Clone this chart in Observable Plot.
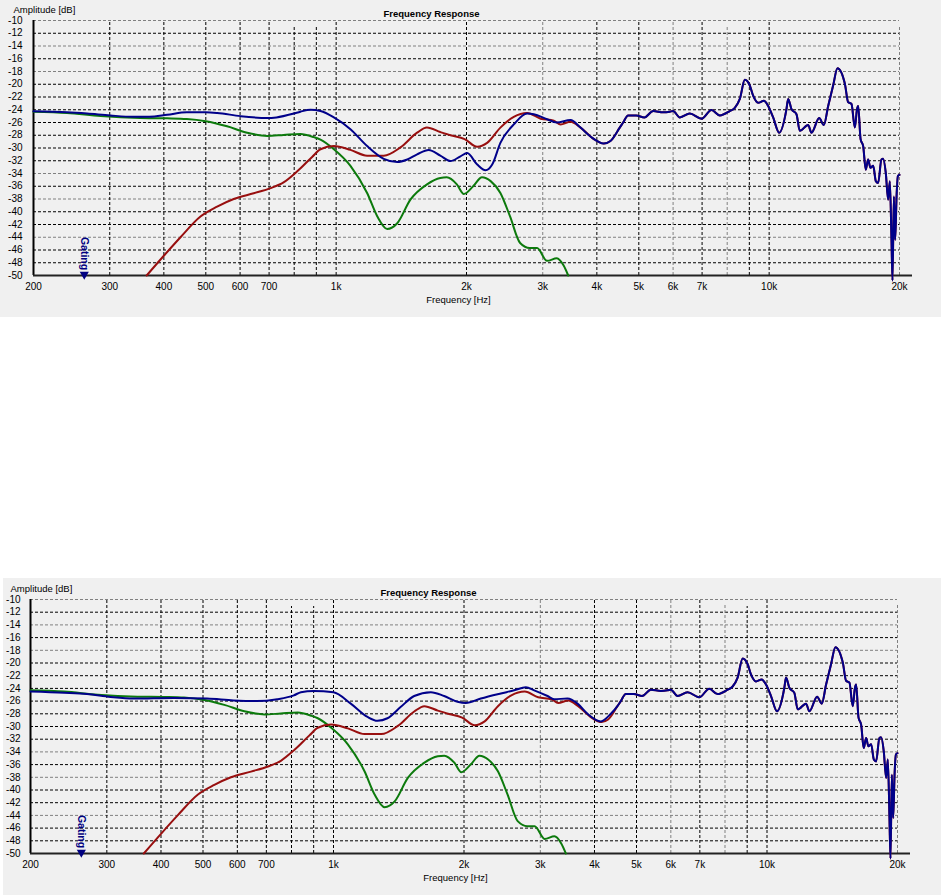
<!DOCTYPE html>
<html><head><meta charset="utf-8">
<script src="https://cdn.jsdelivr.net/npm/d3@7"></script>
<script src="https://cdn.jsdelivr.net/npm/@observablehq/plot@0.6"></script>
<style>
body{margin:0;background:#fff;width:941px;height:895px;position:relative;overflow:hidden}
.panel{position:absolute;background:#f0f0f0}
.panel svg{overflow:visible}
</style></head><body>
<div id="top" class="panel" style="left:0;top:0;width:941px;height:317px"></div>
<div id="bottom" class="panel" style="left:3px;top:578px;width:938px;height:317px"></div>
<script>
// ---- data ----
const titleText = "Frequency Response";
const yLabelText = "Amplitude [dB]";
const xLabelText = "Frequency [Hz]";
const gateText = "Gating";
const gateFreq = 262;

const dbTicks = [-10,-12,-14,-16,-18,-20,-22,-24,-26,-28,-30,-32,-34,-36,-38,-40,-42,-44,-46,-48,-50];
const dbGrayLines = [-10,-14,-18,-34,-38,-44];
const freqLabels = [200,300,400,500,600,700,1000,2000,3000,4000,5000,6000,7000,10000,20000];
const freqGrid = [300,400,500,600,700,800,900,1000,2000,3000,4000,5000,6000,7000,8000,9000,10000,20000];
const freqGrayLines = [3000,6000,8000,20000];
const freqExtended = [800,900,8000,9000,20000];

// shared high-frequency response (all curves coincide above ~4.5 kHz)
const hfFreq = [4518,4600,4723,4933,5150,5396,5692,5897,6000,6220,6557,6980,7358,7692,8113,8331,8556,8787,9024,9184,9432,9720,9947,10215,10546,10965,11063,11261,11563,11771,12304,12524,13048,13374,13687,14052,14380,14955,15220,15493,15770,15955,16055,16260,16487,16715,16928,17134,17389,17636,17851,18168,18330,18593,18828,18998,19166,19269,19408,19548,19690,19832,20000];
const hfDb = [-26.8,-26.0,-24.9,-24.9,-25.2,-24.2,-24.4,-24.3,-24.2,-25.2,-24.6,-25.4,-24.05,-24.9,-24.2,-23.7,-22.3,-19.3,-20.2,-21.8,-22.9,-22.6,-23.4,-25.2,-27.6,-23.9,-22.3,-23.9,-24.7,-27.3,-26.4,-27.6,-25.3,-26.4,-23.4,-20.2,-17.5,-19.9,-22.8,-23.1,-26.8,-23.9,-23.4,-28.6,-29.7,-33.4,-31.8,-33.1,-32.8,-35.2,-35.5,-31.8,-31.7,-33.9,-38.1,-35.2,-44.4,-50.8,-37.6,-44.4,-37.6,-34.4,-34.2];

// green (low-pass driver)
const greenFreq = [200,239,286,353,407,452,500,560,623,693,756,827,888,920,988,1079,1179,1244,1312,1384,1484,1621,1740,1801,1900,1972,2072,2172,2274,2395,2520,2660,2800,2911,3069,3233,3350,3435];
const greenDb = [-24.3,-24.5,-25.0,-25.3,-25.35,-25.45,-25.8,-26.6,-27.6,-28.1,-27.95,-27.8,-28.3,-28.7,-30.2,-32.8,-37.05,-40.7,-42.7,-41.8,-38.1,-35.7,-34.7,-34.6,-35.7,-37.2,-36.0,-34.6,-35.2,-37.05,-40.7,-44.9,-45.7,-45.7,-47.7,-47.3,-48.4,-50];

// red (high-pass driver), below 4.5 kHz
const redFreq = [365,400,437,486,531,580,645,706,756,812,880,920,988,1079,1179,1288,1408,1538,1620,1740,1837,1980,2117,2232,2395,2572,2761,2966,3182,3298,3478,3667,3936,4152,4300];
const redDb = [-50,-46.9,-44.0,-40.75,-39.2,-38.0,-37.1,-36.3,-35.4,-33.7,-31.4,-30.2,-29.7,-30.3,-31.2,-31.2,-29.9,-27.6,-26.8,-27.5,-28.0,-28.6,-29.8,-29.2,-26.8,-25.1,-24.5,-25.4,-25.7,-26.3,-25.9,-26.8,-28.6,-29.3,-28.9];

// blue (sum), top chart, below 4.5 kHz
const blueTopFreq = [200,239,266,301,340,370,407,452,500,531,601,693,728,798,827,872,920,988,1079,1179,1288,1384,1460,1538,1636,1740,1837,1937,2007,2117,2213,2293,2395,2572,2761,2861,3069,3233,3478,3667,3867,4152,4300];
const blueTopDb = [-24.25,-24.4,-24.6,-24.9,-25.1,-25.1,-24.8,-24.4,-24.4,-24.5,-25.0,-25.3,-25.2,-24.6,-24.3,-24.0,-24.2,-25.2,-27.05,-29.7,-31.7,-32.2,-31.8,-31.0,-30.3,-31.2,-32.05,-31.3,-30.8,-32.6,-33.5,-32.6,-29.2,-26.3,-24.6,-24.7,-25.5,-26.0,-25.6,-26.8,-28.2,-29.3,-28.9];

// blue (sum), bottom chart, below 4.5 kHz
const blueBotFreq = [200,239,270,306,346,428,511,588,666,742,810,841,900,1000,1096,1198,1263,1332,1430,1535,1677,1800,1932,2020,2187,2432,2611,2778,2904,3117,3228,3465,3655,3854,4138,4363];
const blueBotDb = [-24.5,-24.7,-24.9,-25.35,-25.6,-25.5,-25.6,-25.9,-26.0,-25.7,-25.1,-24.6,-24.4,-24.6,-26.4,-28.5,-29.1,-28.7,-26.9,-25.2,-24.6,-25.2,-26.1,-26.3,-25.6,-24.8,-24.3,-23.8,-24.3,-25.2,-25.7,-25.6,-26.4,-28.0,-29.2,-28.0];

const colors = {green: "#0c7a0c", red: "#980f0f", blue: "#00008a"};

// ---- helpers ----
const pts = (fs, ds) => fs.map((f, i) => ({f, db: ds[i]}));
const greenData = pts(greenFreq, greenDb);
const redData = pts(redFreq.concat(hfFreq), redDb.concat(hfDb));
const fmtFreq = f => f >= 1000 ? (f / 1000) + "k" : String(f);

function chart(cfg) {
  const blueData = pts(cfg.blueF.concat(hfFreq), cfg.blueD.concat(hfDb));
  const frameCenter = (cfg.marginLeft + cfg.width - cfg.marginRight) / 2;
  const vBlackNorm = freqGrid.filter(d => !freqGrayLines.includes(d) && !freqExtended.includes(d));
  const vBlackExt = freqGrid.filter(d => !freqGrayLines.includes(d) && freqExtended.includes(d));
  const vGrayNorm = freqGrid.filter(d => freqGrayLines.includes(d) && !freqExtended.includes(d));
  const vGrayExt = freqGrid.filter(d => freqGrayLines.includes(d) && freqExtended.includes(d));
  const dash = "3,2";
  return Plot.plot({
    width: cfg.width, height: 317,
    marginLeft: cfg.marginLeft, marginRight: cfg.marginRight,
    marginTop: cfg.marginTop, marginBottom: cfg.marginBottom,
    x: {type: "log", domain: [200, 20000], axis: null},
    y: {domain: [-50, -10], axis: null},
    style: {background: "transparent", fontFamily: "'Liberation Sans', Arial, sans-serif", fontSize: "10px", color: "#000", overflow: "visible"},
    marks: [
      Plot.ruleY(dbTicks.filter(d => !dbGrayLines.includes(d)), {x1: 200, x2: 20000, stroke: "#000", strokeWidth: 1, strokeDasharray: dash}),
      Plot.ruleY(dbTicks.filter(d => dbGrayLines.includes(d)), {x1: 200, x2: 20000, stroke: "#808080", strokeWidth: 1, strokeDasharray: dash}),
      Plot.ruleX(vBlackNorm, {y1: -50, y2: -10, stroke: "#000", strokeWidth: 1, strokeDasharray: dash}),
      Plot.ruleX(vBlackExt, {y1: -50, y2: -10, insetBottom: -7, stroke: "#000", strokeWidth: 1, strokeDasharray: dash}),
      Plot.ruleX(vGrayNorm, {y1: -50, y2: -10, stroke: "#808080", strokeWidth: 1, strokeDasharray: dash}),
      Plot.ruleX(vGrayExt, {y1: -50, y2: -10, insetBottom: -6, stroke: "#808080", strokeWidth: 1, strokeDasharray: dash}),
      Plot.ruleX([200], {y1: -50, y2: -10, stroke: "#000", strokeWidth: 2}),
      Plot.ruleY([-50], {x1: 200, x2: 20000, insetRight: -13, stroke: "#222", strokeWidth: 2}),
      Plot.text(dbTicks, {y: d => d, text: d => String(d), frameAnchor: "left", dx: -cfg.yPad, textAnchor: "end", fontSize: 10}),
      Plot.text(freqLabels, {x: d => d, y: () => -50, text: fmtFreq, dy: 11, fontSize: 10}),
      Plot.text([yLabelText], {frameAnchor: "top-left", dx: -20, dy: -14, textAnchor: "start", fontSize: 9.5}),
      Plot.text([titleText], {frameAnchor: "top", dx: cfg.titleX - frameCenter, dy: -10, fontWeight: "bold", fontSize: 9.5}),
      Plot.text([xLabelText], {frameAnchor: "bottom", dx: cfg.xLabelX - frameCenter, dy: 27.5, fontSize: 9.5}),
      Plot.text([gateText], {x: () => gateFreq, y: () => -50, rotate: 90, dy: -22, fill: "#000080", fontWeight: "bold", fontSize: 10.5}),
      Plot.dot([gateFreq], {x: d => d, y: () => -50, symbol: "triangle", r: 3.4, rotate: 180, fill: "#000080", stroke: "none", dy: -1}),
      Plot.line(greenData, {x: "f", y: "db", stroke: colors.green, strokeWidth: 2, curve: "monotone-x"}),
      Plot.line(redData, {x: "f", y: "db", stroke: colors.red, strokeWidth: 2, curve: "monotone-x"}),
      Plot.line(blueData, {x: "f", y: "db", stroke: colors.blue, strokeWidth: 2, curve: "monotone-x"})
    ]
  });
}

document.getElementById("top").append(chart({
  width: 941, marginLeft: 33, marginRight: 42, marginTop: 20, marginBottom: 42,
  yPad: 11, titleX: 431, xLabelX: 458, blueF: blueTopFreq, blueD: blueTopDb
}));
document.getElementById("bottom").append(chart({
  width: 938, marginLeft: 27, marginRight: 44, marginTop: 21, marginBottom: 42,
  yPad: 10, titleX: 425, xLabelX: 452, blueF: blueBotFreq, blueD: blueBotDb
}));
</script>
</body></html>
